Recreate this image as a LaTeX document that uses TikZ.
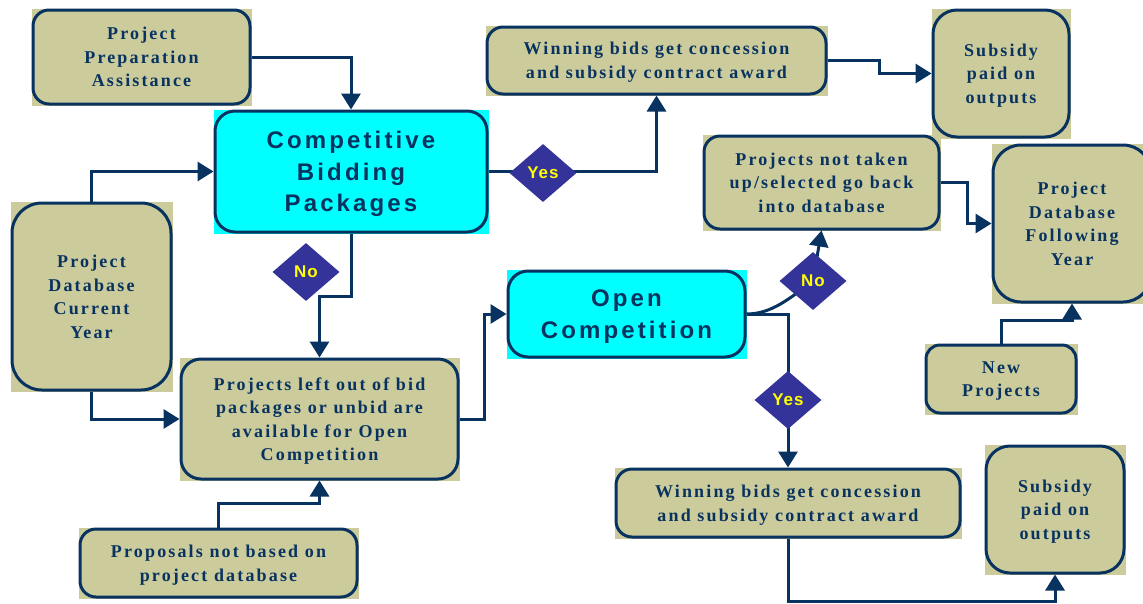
\documentclass[tikz,border=0pt]{standalone}
\usepackage{fontspec}
\setmainfont{Liberation Serif}
\newfontfamily\boxfont{Liberation Serif}[LetterSpace=12]
\newfontfamily\bigfont{Liberation Sans}[LetterSpace=13]
\newfontfamily\decfont{Liberation Sans}[LetterSpace=6]
\usetikzlibrary{arrows.meta,shapes.geometric,backgrounds}
\definecolor{navy}{HTML}{08325F}
\definecolor{olivebox}{HTML}{CBCB9B}
\definecolor{cyanbox}{HTML}{00FFFF}
\definecolor{decblue}{HTML}{333399}
\definecolor{decyellow}{HTML}{FFFF00}
\tikzset{
  box/.style={draw=navy, line width=3pt, rounded corners=16pt, fill=olivebox,
    align=center, text=navy, inner sep=0pt, text depth=0pt,
    font={\boxfont\bfseries\fontsize{18pt}{23.5pt}\selectfont}},
  bigbox/.style={box, fill=cyanbox, rounded corners=20pt,
    font={\bigfont\bfseries\fontsize{24pt}{31.5pt}\selectfont}},
  dec/.style={diamond, fill=decblue, text=decyellow, inner sep=0pt,
    minimum width=67pt, minimum height=58pt,
    font={\decfont\bfseries\fontsize{17pt}{20pt}\selectfont}},
  conn/.style={draw=navy, line width=3pt, -{Triangle[length=16pt,width=19pt]}},
  plainconn/.style={draw=navy, line width=3pt},
}
\begin{document}
\begin{tikzpicture}[x=1pt,y=-1pt]
\useasboundingbox (0,0) rectangle (1143,603);
\clip (0,0) rectangle (1143,603);

% boxes
\node[box, minimum width=217pt, minimum height=94pt] (ppa) at (141.5,57) {Project\\Preparation\\Assistance};
\node[bigbox, minimum width=272pt, minimum height=121pt] (cbp) at (351,171.5) {Competitive\\Bidding\\Packages};
\node[box, minimum width=339pt, minimum height=67pt] (w1) at (656.5,60.5) {Winning bids get concession\\and subsidy contract award};
\node[box, rounded corners=24pt, minimum width=136pt, minimum height=127pt] (s1) at (1001,73.5) {Subsidy\\paid on\\outputs};
\node[box, minimum width=235pt, minimum height=93pt] (pnt) at (821.5,182.5) {Projects not taken\\up/selected go back\\into database};
\node[box, rounded corners=28pt, minimum width=158pt, minimum height=157pt] (pdfy) at (1072,223.5) {Project\\Database\\Following\\Year};
\node[box, rounded corners=30pt, minimum width=159pt, minimum height=187pt] (pdcy) at (91.5,296.5) {Project\\Database\\Current\\Year};
\node[box, rounded corners=20pt, minimum width=277pt, minimum height=120pt] (plo) at (319.5,419) {Projects left out of bid\\packages or unbid are\\available for Open\\Competition};
\node[bigbox, minimum width=237pt, minimum height=86pt] (oc) at (626.5,314) {Open\\Competition};
\node[box, rounded corners=14pt, minimum width=150pt, minimum height=68pt] (np) at (1001,379) {New\\Projects};
\node[box, minimum width=277pt, minimum height=68pt] (pr) at (218.5,563) {Proposals not based on\\project database};
\node[box, minimum width=344pt, minimum height=68pt] (w2) at (788,503) {Winning bids get concession\\and subsidy contract award};
\node[box, rounded corners=24pt, minimum width=138pt, minimum height=127pt] (s2) at (1055,509.5) {Subsidy\\paid on\\outputs};

% decisions
\node[dec] (yes1) at (543,173) {Yes};
\node[dec] (no1) at (306,272) {No};
\node[dec] (no2) at (813,281) {No};
\node[dec] (yes2) at (788,400) {Yes};

\begin{scope}[on background layer]
  \fill[white] (0,0) rectangle (1143,603);
  \foreach \n in {ppa,w1,s1,pnt,pdfy,pdcy,plo,np,pr,w2,s2}
    \fill[olivebox] (\n.south west) rectangle (\n.north east);
  \foreach \n in {cbp,oc}
    \fill[cyanbox] (\n.south west) rectangle (\n.north east);
  % connectors
  \draw[conn] (ppa.east) -| (cbp.north);
  \draw[conn] (pdcy.north) |- (cbp.west);
  \draw[conn] (pdcy.south) |- (plo.west);
  \draw[conn] (cbp.south) -- (cbp.south |- 0,296) -| (plo.north);
  \draw[conn] (cbp.east) -| (w1.south);
  \draw[conn] (w1.east) -- ++(52,0) |- (s1.west);
  \draw[conn] (plo.east) -- ++(25,0) |- (oc.west);
  \draw[plainconn] (oc.east) .. controls (772,314) and (790,298) .. (no2.center);
  \draw[conn] (no2.center) -- (pnt.south);
  \draw[conn] (oc.east) -| (w2.north);
  \draw[conn] (pnt.east) -- ++(27,0) |- (pdfy.west);
  \draw[conn] (np.north) -- ++(0,-23) -| (pdfy.south);
  \draw[conn] (pr.north) -- ++(0,-24) -| (plo.south);
  \draw[conn] (w2.south) -- (w2.south |- 0,601) -| (s2.south);
\end{scope}
\end{tikzpicture}
\end{document}
